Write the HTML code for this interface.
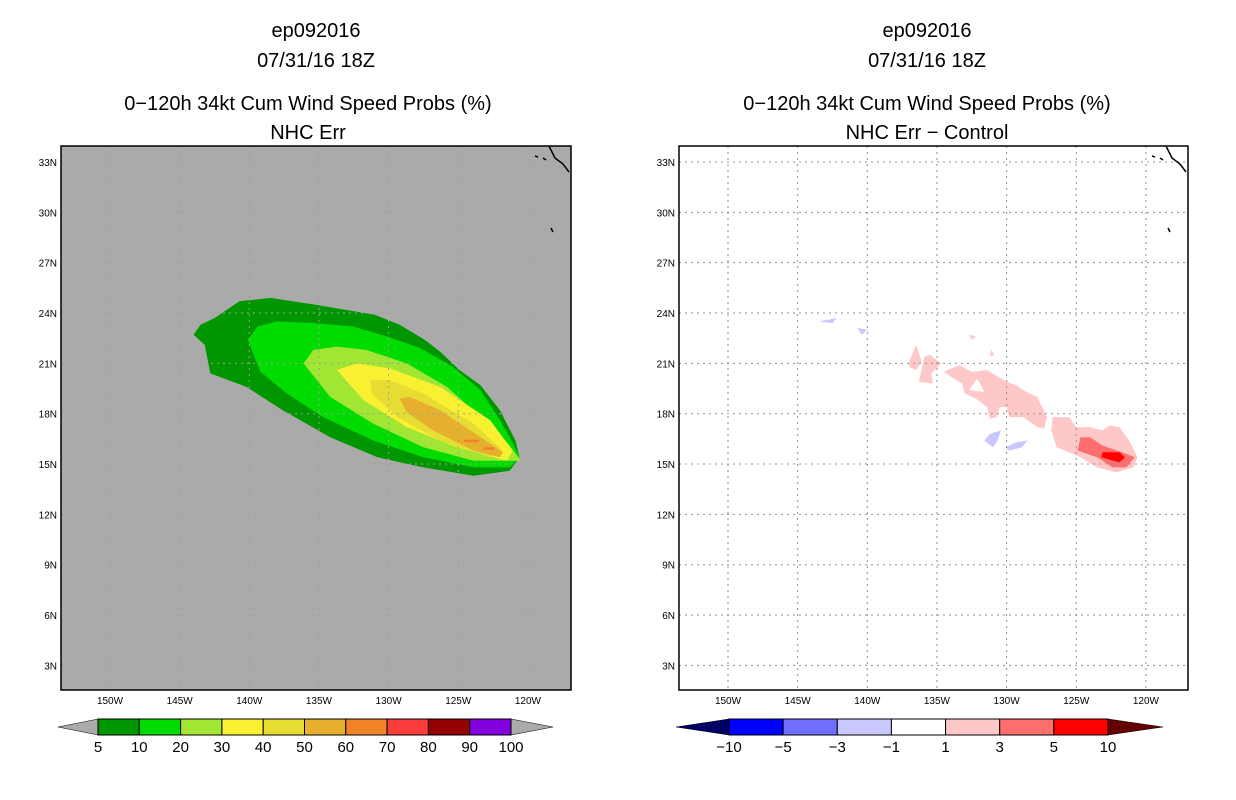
<!DOCTYPE html>
<html><head><meta charset="utf-8"><style>
html,body{margin:0;padding:0;background:#fff;}
svg{display:block;font-family:"Liberation Sans",sans-serif;}
</style></head><body>
<svg id="s" width="1236" height="800" viewBox="0 0 1236 800">
<g font-size="20" text-anchor="middle" fill="#000">
<text x="316" y="37">ep092016</text>
<text x="316" y="67">07/31/16 18Z</text>
<text x="308" y="110">0−120h 34kt Cum Wind Speed Probs (%)</text>
<text x="308" y="139">NHC Err</text>
</g>
<g font-size="20" text-anchor="middle" fill="#000">
<text x="927" y="37">ep092016</text>
<text x="927" y="67">07/31/16 18Z</text>
<text x="927" y="110">0−120h 34kt Cum Wind Speed Probs (%)</text>
<text x="927" y="139">NHC Err − Control</text>
</g>
<g id="L"></g>
<g id="R"></g>
<g id="CB"></g>
</svg>
<script>
// ---- data ----
const latTicks = [33,30,27,24,21,18,15,12,9,6,3];
const lonTicks = [150,145,140,135,130,125,120];
const probLevels = ["5","10","20","30","40","50","60","70","80","90","100"];
const probColors = ["#009600","#00dc00","#a0e632","#faf032","#e6dc32","#e6af2d","#f08228","#fa3c3c","#960000","#8200dc"];
const diffLevels = ["−10","−5","−3","−1","1","3","5","10"];
const diffColors = ["#0000ff","#6e6eff","#c8c8ff","#ffffff","#ffc8c8","#ff6e6e","#ff0000"];
const prob5 = [[144.0,22.7],[143.5,23.3],[142.5,23.7],[140.7,24.7],[138.5,24.9],[135.3,24.5],[131.0,23.9],[129.2,23.3],[127.4,22.4],[126.3,21.7],[124.9,20.6],[123.4,19.7],[122.0,18.2],[120.9,16.4],[120.6,15.4],[121.3,14.6],[123.9,14.3],[127.5,14.8],[130.8,15.4],[134.2,16.6],[137.6,18.2],[140.2,19.6],[142.8,20.4],[143.2,22.1]];
const prob10 = [[140.1,22.4],[139.4,23.2],[138.0,23.5],[135.4,23.4],[132.6,23.2],[130.1,22.6],[127.7,21.9],[125.4,20.8],[123.4,19.4],[122.0,17.6],[121.1,16.3],[120.6,15.4],[121.3,14.8],[123.9,14.8],[127.5,15.4],[131.1,16.4],[134.7,17.8],[137.3,19.2],[139.2,20.5]];
const prob20 = [[136.1,21.0],[135.4,21.8],[133.7,22.0],[131.6,21.8],[128.7,21.0],[125.8,19.6],[123.4,17.8],[121.5,16.3],[120.5,15.2],[123.9,15.2],[127.5,16.0],[131.1,17.4],[134.2,19.0]];
const prob30 = [[133.7,20.6],[132.3,21.0],[129.9,20.7],[126.3,19.6],[122.7,17.6],[121.1,15.8],[121.5,15.2],[125.1,16.0],[128.7,17.2],[131.8,18.8]];
const prob40 = [[131.3,20.0],[129.9,20.0],[127.5,19.2],[123.9,17.4],[121.8,15.8],[122.7,15.4],[126.3,16.4],[129.4,17.8],[131.2,19.2]];
const prob50 = [[129.2,18.9],[128.5,19.0],[126.3,18.2],[123.4,16.6],[121.8,15.7],[122.0,15.4],[123.9,15.8],[126.8,17.0],[128.7,18.1]];
const prob60a = [[124.6,16.45],[123.5,16.45],[123.5,16.3],[124.6,16.3]];
const prob60b = [[123.2,16.0],[122.4,16.0],[122.4,15.85],[123.2,15.85]];
const diffPos1 = [
 [[134.5,20.5],[133.4,20.9],[132.5,20.5],[131.4,20.6],[130.0,19.9],[129.3,19.7],[128.6,19.3],[127.8,19.0],[127.1,17.8],[127.3,17.1],[127.8,17.2],[128.8,17.8],[129.8,17.8],[130.0,18.4],[130.5,18.4],[130.7,17.8],[131.2,17.7],[131.4,18.4],[132.2,18.9],[133.0,19.2],[133.2,19.8],[134.0,20.2]],
 [[126.7,17.8],[125.5,17.8],[125.0,17.2],[124.0,17.2],[123.1,17.0],[122.6,17.3],[121.9,17.2],[121.2,16.4],[120.6,15.4],[120.9,14.8],[122.1,14.5],[123.5,14.8],[124.7,15.4],[126.4,16.0],[126.8,17.0]],
 [[137.0,21.1],[136.5,22.1],[136.1,21.1],[136.5,20.6],[137.0,20.8]],
 [[136.3,19.9],[135.9,21.4],[135.5,21.5],[134.7,21.0],[135.4,20.4],[135.3,19.8]],
 [[132.7,22.7],[132.2,22.6],[132.5,22.4]],
 [[131.1,21.8],[130.9,21.5],[131.2,21.4]]
];
const diffPos3 = [[124.7,16.6],[124.0,16.6],[123.1,16.1],[121.7,15.7],[120.8,15.4],[121.4,14.8],[122.4,14.8],[123.5,15.4],[124.9,15.8]];
const diffPos5 = [[123.1,15.7],[121.9,15.7],[121.5,15.4],[121.9,15.1],[123.2,15.4]];
const diffNeg1 = [
 [[131.6,16.4],[131.2,16.8],[130.4,17.0],[130.7,16.3],[131.0,16.0]],
 [[130.1,16.0],[129.3,16.3],[128.5,16.4],[128.9,16.0],[129.8,15.8]],
 [[143.5,23.5],[142.2,23.7],[142.5,23.4]],
 [[140.7,23.1],[140.0,23.0],[140.4,22.7]]
];
const diffHoles = [[[132.7,19.4],[132.1,20.1],[131.6,19.3]]];

// ---- drawing ----
const NS="http://www.w3.org/2000/svg";
function mk(tag,attrs,parent){const e=document.createElementNS(NS,tag);for(const k in attrs)e.setAttribute(k,attrs[k]);parent.appendChild(e);return e;}
function panel(g,x0,x1,bg){
  const X=lon=>x0+49+(150-lon)*13.93;
  const Y=lat=>162+(33-lat)*16.78;
  const r=mk('rect',{x:x0,y:146,width:x1-x0,height:544,fill:bg},g);
  
  
  return {X,Y};
}
function poly(g,pts,fill,ax,name){
  const p=mk('polygon',{points:pts.map(q=>ax.X(q[0]).toFixed(1)+','+ax.Y(q[1]).toFixed(1)).join(' '),fill:fill},g);
  
  
}
function grid(g,ax,x0,x1,col){
  lonTicks.forEach(l=>{const x=ax.X(l);
    const ln=mk('line',{x1:x,x2:x,y1:146,y2:690,stroke:col,'stroke-dasharray':'2,4','stroke-width':1},g);
    
    
    const t=mk('text',{x:x,y:704,'font-size':10,'text-anchor':'middle'},g);t.textContent=l+'W';
    
    });
  latTicks.forEach(l=>{const y=ax.Y(l);
    const ln=mk('line',{x1:x0,x2:x1,y1:y,y2:y,stroke:col,'stroke-dasharray':'2,4','stroke-width':1},g);
    
    
    const t=mk('text',{x:x0-4,y:y+4,'font-size':10,'text-anchor':'end'},g);t.textContent=l+'N';
    
    });
}
function coast(g,ax,x1){
  const c=mk('path',{d:`M${x1-22},146 L${x1-16},158 L${x1-8},164 L${x1-2},172 M${x1-36},156 l3,1 M${x1-28},158 l3,2 M${x1-20},228 l2,4`,stroke:'#000','stroke-width':1.5,fill:'none'},g);
  
  
}
function frame(g,x0,x1){
  const f=mk('rect',{x:x0,y:146,width:x1-x0,height:544,fill:'none',stroke:'#000','stroke-width':1.5},g);
  
  
}
// left
const L=document.getElementById('L');
const aL=panel(L,61,571,'#aaaaaa');
[prob5,prob10,prob20,prob30,prob40,prob50].forEach((s,i)=>poly(L,s,probColors[i],aL,'prob-contour-'+probLevels[i]));
poly(L,prob60a,probColors[6],aL,'prob-contour-60');
poly(L,prob60b,probColors[6],aL,'prob-contour-60');
grid(L,aL,61,571,'#a0a0a0');
coast(L,aL,571);frame(L,61,571);
// right
const R=document.getElementById('R');
const aR=panel(R,679,1188,'#ffffff');
diffPos1.forEach(s=>poly(R,s,diffColors[4],aR,'diff-contour-pos1'));
diffHoles.forEach(s=>poly(R,s,'#ffffff',aR,'diff-contour-hole'));
poly(R,diffPos3,diffColors[5],aR,'diff-contour-pos3');
poly(R,diffPos5,diffColors[6],aR,'diff-contour-pos5');
diffNeg1.forEach(s=>poly(R,s,diffColors[2],aR,'diff-contour-neg1'));
grid(R,aR,679,1188,'#909090');
coast(R,aR,1188);frame(R,679,1188);
// colorbars
const CB=document.getElementById('CB');
function bar(xs,xe,t0,t1,cols,labs,lc,rc,name){
  const w=(xe-xs)/cols.length;
  const g=mk('g',{},CB);
  
  
  const tl=mk('polygon',{points:`${t0},727 ${xs},719 ${xs},735`,fill:lc,stroke:'#000','stroke-width':0.5},g);
  
  
  const tr=mk('polygon',{points:`${t1},727 ${xe},719 ${xe},735`,fill:rc,stroke:'#000','stroke-width':0.5},g);
  
  
  cols.forEach((c,i)=>{const r=mk('rect',{x:xs+i*w,y:719,width:w,height:16,fill:c,stroke:'#000','stroke-width':1},g);
    
    });
  labs.forEach((l,i)=>{const t=mk('text',{x:xs+i*w,y:752,'font-size':15,'text-anchor':'middle'},g);t.textContent=l;
    
    });
}
bar(98,511,58,553,probColors,probLevels,'#aaaaaa','#aaaaaa','prob-colorbar');
bar(729,1108,676,1163,diffColors,diffLevels,'#000064','#640000','diff-colorbar');
</script>
</body></html>
